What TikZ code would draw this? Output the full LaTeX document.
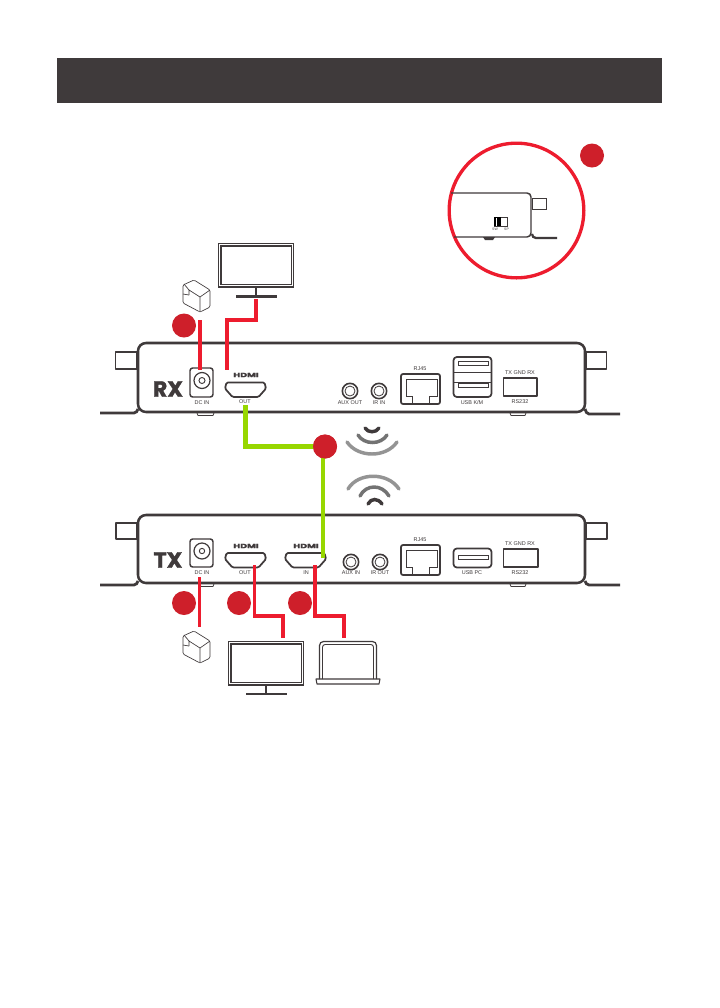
\documentclass[tikz,border=0pt]{standalone}
\usepackage{fontspec}
\setmainfont{Liberation Sans}
\newfontfamily\heavy{Poppins}[BoldFont={Poppins Bold},BoldFeatures={FakeBold=1.6}]
\definecolor{ink}{HTML}{3F3A3B}
\definecolor{redc}{HTML}{ED1C2E}
\definecolor{badgec}{HTML}{CE1F2A}
\definecolor{greenc}{HTML}{97D700}
\tikzset{
  dev/.style={draw=ink,line width=1.9pt,line join=round},
  thinb/.style={draw=ink,line width=0.9pt,line join=round},
  foot/.style={draw=ink,line width=2.1pt},
  lab/.style={inner sep=0pt,text=ink,font=\fontsize{4.1}{5}\selectfont},
  hdlogo/.style={inner sep=0pt,text=ink,font=\heavy\bfseries\fontsize{4.6}{6}\selectfont,xscale=1.55},
  sidetxt/.style={inner sep=0pt,text=ink,font=\heavy\bfseries\fontsize{16.5}{17}\selectfont},
  badge/.style={circle,fill=badgec,inner sep=0pt,minimum size=18pt},
  redw/.style={draw=redc,line width=2.6pt},
  greenw/.style={draw=greenc,line width=3.4pt},
  wave/.style={line width=2.6pt,line cap=round},
  ringo/.style={circle,draw=ink,line width=0.9pt,inner sep=0pt},
}
\newcommand{\hdport}[2]{\draw[thinb,line width=1.3pt,rounded corners=1pt] (#1-19,#2) -- (#1+19,#2) -- (#1+20.5,#2+6) -- (#1+13,#2+14.5) -- (#1-13,#2+14.5) -- (#1-20.5,#2+6) -- cycle;}
\newcommand{\adapter}[2]{\begin{scope}[shift={(#1,#2)},ink,line width=.5pt,line join=round]
  \draw[rounded corners=1pt] (0,5) -- (11,0) -- (27,10) -- (27,27) -- (17,32) -- (0,23) -- cycle;
  \draw (17,17) -- (17,32) (17,17) -- (27,10) (17,17) -- (6,10) -- (6,15);
  \draw (1,4) -- (6,10) (6,15) -- (0,14);
\end{scope}}
\begin{document}
\begin{tikzpicture}[x=0.75pt,y=-0.75pt]
\useasboundingbox (0,0) rectangle (720,1008);
\fill[white] (0,0) rectangle (720,1008);
\fill[ink] (57,58) rectangle (662,103);

% magnifier
\node[circle,draw=redc,line width=2.5pt,minimum size=101pt,inner sep=0pt] (ring) at (516.5,210.5) {};
\node[badge] (bm) at (592,155.5) {};
\draw[ink,line width=1.1pt,rounded corners=3pt] (451,193) -- (531,193) -- (531,237) -- (454,237);
\draw[ink,line width=.7pt] (532,198) rectangle (546,209);
\draw[ink,line width=1.7pt] (532,234) to[out=-90,in=180] (536,238) -- (557,238);
\fill[ink] (483,237) -- (495,237) -- (493,240) -- (485,240) -- cycle;
\draw[ink,line width=.6pt] (494,217) rectangle (507,226);
\fill[black] (494,217) rectangle (501,226);
\fill[white] (496.2,217.5) rectangle (497,225.5);
\node[inner sep=0pt,text=ink,font=\fontsize{2.6}{3}\selectfont] (sw) at (495,229.5) {SW};
\node[inner sep=0pt,text=ink,font=\fontsize{2.6}{3}\selectfont] (sp) at (506.5,229.5) {SP};

% RX device
\draw[dev,rounded corners=6pt] (138,343) rectangle (585,412);
\draw[thinb] (115.5,352) rectangle (137,369);
\draw[thinb] (586,352) rectangle (606.5,369);
\draw[foot] (100,413) -- (134,413) to[out=0,in=-110] (138,409);
\draw[foot] (585,409) to[out=-70,in=180] (589,414) -- (620,414);
\draw[thinb,line width=.6pt] (197,413) -- (198,415.5) -- (213,415.5) -- (214,413);
\draw[thinb,line width=.6pt] (510,413) -- (511,415.5) -- (525,415.5) -- (526,413);
\node[sidetxt] (rxt) at (168,389) {RX};
\draw[thinb,line width=1.1pt,rounded corners=2pt] (190,368) rectangle (213,397);
\node[ringo,minimum size=12pt] (rdc) at (202,380.5) {};
\node[ringo,minimum size=4.5pt,line width=.7pt] at (202,380.5) {};
\node[lab] at (202,403) {DC IN};
\node[hdlogo] (rh) at (246,375) {HDMI};
\hdport{245.5}{382.5}
\coordinate (rhout) at (245.5,397);
\node[lab] at (245,402) {OUT};
\node[ringo,minimum size=11.5pt,line width=1.2pt] (raux) at (350,391) {};
\node[ringo,minimum size=7.5pt,line width=.6pt] at (350,391) {};
\node[lab] at (350,403) {AUX OUT};
\node[ringo,minimum size=11.5pt,line width=1.2pt] (rir) at (379,391) {};
\node[ringo,minimum size=7.5pt,line width=.6pt] at (379,391) {};
\node[lab] at (379,403) {IR IN};
\node[lab] at (420,369) {RJ45};
\draw[thinb,line width=1.3pt,rounded corners=1.5pt] (401,404) -- (401,374) -- (440,374) -- (440,404) -- cycle;
\draw[ink,line width=.6pt] (412,404) -- (412,396) -- (406,396) -- (406,379) -- (437,379) -- (437,396) -- (429,396) -- (429,404);
\draw[thinb,line width=1.3pt,rounded corners=2.5pt] (453.5,357) rectangle (491.5,397);
\draw[ink,line width=.5pt] (454,372) -- (491,372) (454,382) -- (491,382);
\draw[ink,line width=.6pt] (458,361) rectangle (488,365.5);
\draw[ink,line width=.6pt] (458,383) rectangle (488,387.5);
\node[lab] at (472,403) {USB K/M};
\node[lab] at (520,373) {TX GND RX};
\draw[thinb,line width=1.3pt] (503.5,378) rectangle (537,396);
\node[lab] at (520,402) {RS232};

% TX device
\draw[dev,rounded corners=6pt] (138,515) rectangle (585,583);
\draw[thinb] (116,523) rectangle (137,539);
\draw[thinb] (586,523) rectangle (607,539);
\draw[foot] (100,585) -- (134,585) to[out=0,in=-110] (138,581);
\draw[foot] (585,581) to[out=-70,in=180] (589,585) -- (620,585);
\draw[thinb,line width=.6pt] (200,584) -- (201,586.5) -- (213,586.5) -- (214,584);
\draw[thinb,line width=.6pt] (510,584) -- (511,586.5) -- (525,586.5) -- (526,584);
\node[sidetxt] (txt) at (168,560) {TX};
\draw[thinb,line width=1.1pt,rounded corners=2pt] (190,539) rectangle (213,567);
\node[ringo,minimum size=12pt] (tdc) at (202,551) {};
\node[ringo,minimum size=4pt,line width=.7pt] at (202,551) {};
\node[lab] at (202,573) {DC IN};
\node[hdlogo] (th1) at (246,546) {HDMI};
\hdport{245.5}{553}
\node[lab] at (245,573) {OUT};
\node[hdlogo] (th2) at (306,546) {HDMI};
\hdport{305.5}{553}
\node[lab] at (306,573) {IN};
\node[ringo,minimum size=11.5pt,line width=1.2pt] (taux) at (351,562) {};
\node[ringo,minimum size=7.5pt,line width=.6pt] at (351,562) {};
\node[lab] at (351,573) {AUX IN};
\node[ringo,minimum size=11.5pt,line width=1.2pt] (tir) at (380,562) {};
\node[ringo,minimum size=7.5pt,line width=.6pt] at (380,562) {};
\node[lab] at (380,573) {IR OUT};
\node[lab] at (420,540) {RJ45};
\draw[thinb,line width=1.3pt,rounded corners=1.5pt] (401,575) -- (401,545) -- (440,545) -- (440,575) -- cycle;
\draw[ink,line width=.6pt] (412,575) -- (412,567) -- (406,567) -- (406,550) -- (437,550) -- (437,567) -- (429,567) -- (429,575);
\draw[thinb,line width=1.3pt,rounded corners=2.5pt] (453.5,548.5) rectangle (491.5,567.5);
\draw[ink,line width=.6pt] (458,555) rectangle (488,559.5);
\node[lab] at (472,573) {USB PC};
\node[lab] at (520,544) {TX GND RX};
\draw[thinb,line width=1.3pt] (503.5,549) rectangle (538,567);
\node[lab] at (520,573) {RS232};

% monitors
\draw[ink,line width=.9pt] (218.5,243.5) rectangle (293.5,287);
\draw[ink,line width=.9pt] (221,246) rectangle (291.5,284.5);
\coordinate (ms1) at (256,287);
\coordinate (ms2) at (256,296.5);
\draw[ink,line width=2pt] (ms1) -- (ms2);
\draw[ink,line width=2pt] (236,296.5) -- (277,296.5);
\draw[ink,line width=.9pt] (228.5,641.5) rectangle (303.5,685);
\draw[ink,line width=.9pt] (231,644) rectangle (301.5,682.5);
\draw[ink,line width=2pt] (266,685) -- (266,694);
\draw[ink,line width=2pt] (246,694) -- (287,694);
% laptop
\draw[ink,line width=.9pt,rounded corners=3pt] (319.5,679) -- (319.5,641.5) -- (376.5,641.5) -- (376.5,679);
\draw[ink,line width=.7pt,rounded corners=2pt] (322.5,679) -- (322.5,644.5) -- (373.5,644.5) -- (373.5,679);
\draw[ink,line width=.8pt,line join=round] (316,679) -- (380,679) -- (379,684) -- (317,684) -- cycle;
% adapters
\adapter{183}{280}
\adapter{183}{631}

% red connectors
\coordinate (a1) at (200,320);
\coordinate (a1e) at (200,370);
\draw[redw] (a1) -- (a1e);
\coordinate (mr) at (256,299);
\coordinate (mre) at (227,370);
\draw[redw] (mr) |- (227,320) -- (mre);
\coordinate (t1s) at (199.5,577);
\coordinate (t1e) at (199.5,627);
\draw[redw] (t1s) -- (t1e);
\coordinate (t2s) at (254.7,565);
\coordinate (t2e) at (283,638);
\draw[redw] (t2s) -- (254.7,616) -- (283,616) -- (t2e);
\coordinate (t3s) at (315,565);
\coordinate (t3e) at (344,638);
\draw[redw] (t3s) -- (315,616) -- (344,616) -- (t3e);

% green connector
\coordinate (gs) at (245.5,405);
\coordinate (ge) at (323,558);
\node[badge] (b2) at (325,446.5) {};
\draw[greenw] (gs) |- (b2.center);
\draw[greenw] (ge) -- (323,450);
\node[badge] at (325,446.5) {};

% badges
\node[badge] (b1) at (184,325.5) {};
\node[badge] (b3) at (184,603) {};
\node[badge] (b4) at (239,603) {};
\node[badge] (b5) at (300,603) {};

% waves
\draw[wave,draw=black!42] (347,442) .. controls (358,458) and (386,458) .. (397,442);
\draw[wave,draw=black!55] (358,435) .. controls (364,445) and (381,445) .. (387,435);
\draw[wave,draw=ink] (365,428) .. controls (368,433) and (376,433) .. (379,428);
\draw[wave,draw=black!42] (348,489) .. controls (358,472) and (388,472) .. (399,489);
\draw[wave,draw=black!55] (360,496) .. controls (366,484) and (382,484) .. (389,496);
\draw[wave,draw=ink] (368,504) .. controls (371,498) and (378,498) .. (382,504);
\end{tikzpicture}
\end{document}
